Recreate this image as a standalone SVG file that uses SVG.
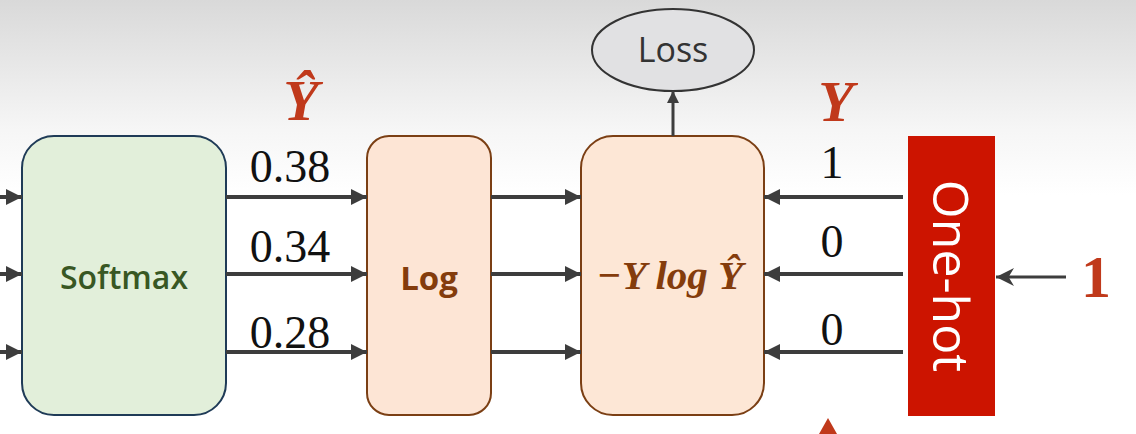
<svg xmlns="http://www.w3.org/2000/svg" width="1136" height="434" viewBox="0 0 1136 434">
<defs>
<linearGradient id="bg" x1="0" y1="0" x2="0" y2="1">
<stop offset="0" stop-color="#d9d9d9"/>
<stop offset="0.3" stop-color="#f6f6f6"/>
<stop offset="0.45" stop-color="#ffffff"/>
<stop offset="1" stop-color="#ffffff"/>
</linearGradient>
<marker id="ah" viewBox="0 0 10 10" refX="10" refY="5" markerWidth="4" markerHeight="4" orient="auto-start-reverse" markerUnits="strokeWidth">
<path d="M0,0 L10,5 L0,10 Z" fill="#3d3d3d"/>
</marker>
<marker id="ahs" viewBox="0 0 10 10" refX="10" refY="5" markerWidth="6" markerHeight="6" orient="auto" markerUnits="strokeWidth">
<path d="M0,0 L10,5 L0,10 L3,5 Z" fill="#3d3d3d"/>
</marker>
</defs>
<style>
.conn{stroke:#3d3d3d;stroke-width:4;fill:none;marker-end:url(#ah)}
.num{font-family:"Liberation Serif",serif;font-size:46px;fill:#111}
.red{font-family:"Liberation Serif",serif;font-weight:bold;font-style:italic;fill:#c0391b}
</style>
<rect width="1136" height="434" fill="url(#bg)"/>

<g id="loss">
<ellipse cx="673" cy="50" rx="81" ry="41" fill="#e1e1e3" stroke="#333" stroke-width="2"/>
<text x="673" y="62" text-anchor="middle" font-family="Open Sans, sans-serif" font-size="34" fill="#333">Loss</text>
</g>

<g id="yhat-label"><text class="red" x="301" y="120" font-size="58" text-anchor="middle">Ŷ</text></g>
<g id="y-label"><text class="red" x="836" y="121" font-size="58" text-anchor="middle">Y</text></g>

<g id="softmax">
<rect x="22" y="136" width="204" height="279" rx="32" fill="#e2efda" stroke="#1f3b57" stroke-width="2"/>
<text x="124" y="289" text-anchor="middle" font-family="Open Sans, sans-serif" font-weight="600" font-size="32" fill="#385723">Softmax</text>
</g>

<g id="log">
<rect x="367" y="136" width="124" height="279" rx="22" fill="#fde5d5" stroke="#7b3f14" stroke-width="2"/>
<text x="429" y="290" text-anchor="middle" font-family="Open Sans, sans-serif" font-weight="bold" font-size="33" fill="#843c0c">Log</text>
</g>

<g id="crossentropy">
<rect x="581" y="136" width="183" height="279" rx="32" fill="#fde7d6" stroke="#7b3f14" stroke-width="2"/>
<text x="670" y="289" text-anchor="middle" font-family="Liberation Serif, serif" font-weight="bold" font-style="italic" font-size="41" fill="#843c0c">−Y log Ŷ</text>
</g>

<g id="onehot">
<rect x="908" y="136" width="87" height="280" fill="#cc1400"/>
<text transform="translate(950,276) rotate(90)" x="0" y="17" text-anchor="middle" font-family="Open Sans, sans-serif" font-size="50" fill="#ffffff">One-hot</text>
</g>

<g id="input-one"><text x="1096" y="297" text-anchor="middle" font-family="Liberation Serif, serif" font-weight="bold" font-size="60" fill="#c0391b">1</text></g>

<g id="labels">
<text class="num" x="290" y="182" text-anchor="middle">0.38</text>
<text class="num" x="290" y="262" text-anchor="middle">0.34</text>
<text class="num" x="290" y="348" text-anchor="middle">0.28</text>
<text class="num" x="832" y="178" text-anchor="middle">1</text>
<text class="num" x="832" y="257" text-anchor="middle">0</text>
<text class="num" x="832" y="345" text-anchor="middle">0</text>
</g>

<g id="connectors">
<line class="conn" x1="0" y1="197" x2="22" y2="197"/>
<line class="conn" x1="0" y1="274" x2="22" y2="274"/>
<line class="conn" x1="0" y1="352" x2="22" y2="352"/>
<line class="conn" x1="226" y1="197" x2="367" y2="197"/>
<line class="conn" x1="226" y1="274" x2="367" y2="274"/>
<line class="conn" x1="226" y1="352" x2="367" y2="352"/>
<line class="conn" x1="491" y1="197" x2="581" y2="197"/>
<line class="conn" x1="491" y1="274" x2="581" y2="274"/>
<line class="conn" x1="491" y1="352" x2="581" y2="352"/>
<line class="conn" x1="903" y1="197" x2="764" y2="197"/>
<line class="conn" x1="903" y1="274" x2="764" y2="274"/>
<line class="conn" x1="903" y1="352" x2="764" y2="352"/>
<line class="conn" x1="673" y1="136" x2="673" y2="91" style="stroke-width:3"/>
<line x1="1066" y1="277" x2="996" y2="277" stroke="#3d3d3d" stroke-width="3" marker-end="url(#ahs)"/>
</g>

<polygon id="pointer" points="828,418 819,434 837,434" fill="#c0391b"/>
</svg>
